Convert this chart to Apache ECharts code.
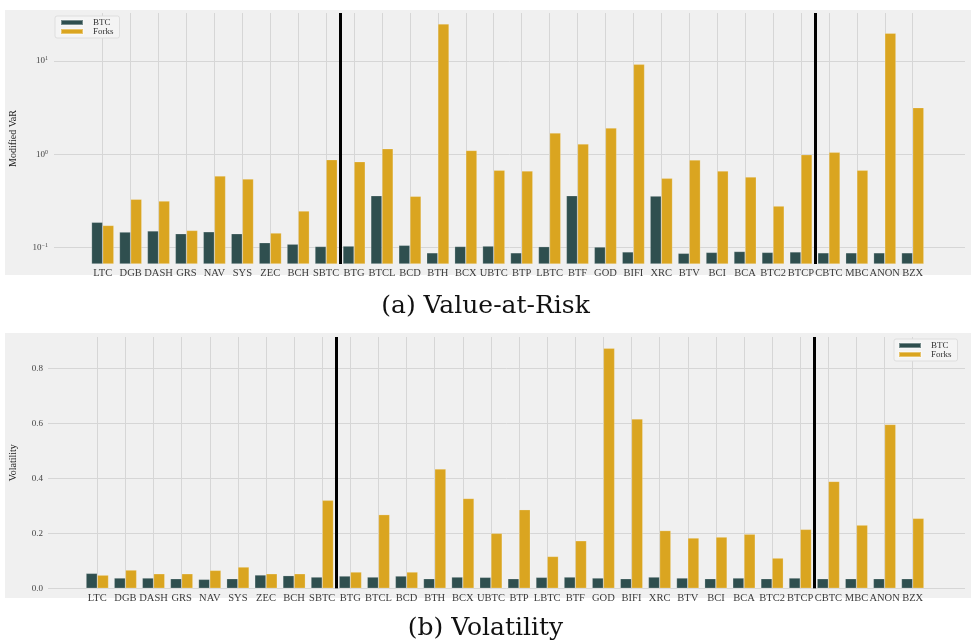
<!DOCTYPE html>
<html>
<head>
<meta charset="utf-8">
<script src="https://cdn.jsdelivr.net/npm/echarts@6/dist/echarts.min.js"></script>
<style>
html,body{margin:0;padding:0;background:#fff;}
#chart{width:971px;height:641px;}
</style>
</head>
<body>
<div id="chart"></div>
<script>
const categories = ['LTC','DGB','DASH','GRS','NAV','SYS','ZEC','BCH','SBTC','BTG','BTCL','BCD','BTH','BCX','UBTC','BTP','LBTC','BTF','GOD','BIFI','XRC','BTV','BCI','BCA','BTC2','BTCP','CBTC','MBC','ANON','BZX'];

const varBTC   = [0.187,0.147,0.151,0.141,0.148,0.141,0.113,0.109,0.103,0.104,0.360,0.106,0.088,0.103,0.104,0.088,0.1025,0.360,0.1016,0.090,0.357,0.087,0.089,0.091,0.089,0.090,0.088,0.088,0.088,0.088];
const varForks = [0.173,0.330,0.316,0.153,0.586,0.544,0.1435,0.247,0.875,0.833,1.148,0.355,24.9,1.10,0.674,0.662,1.69,1.29,1.91,9.2,0.553,0.869,0.662,0.571,0.279,0.99,1.05,0.674,19.8,3.16];

const volBTC   = [0.0545,0.0375,0.0375,0.035,0.0327,0.035,0.0485,0.046,0.041,0.0447,0.041,0.0447,0.035,0.041,0.040,0.035,0.040,0.041,0.0375,0.035,0.041,0.0375,0.035,0.0375,0.035,0.0375,0.035,0.035,0.035,0.035];
const volForks = [0.048,0.0665,0.053,0.053,0.0654,0.0775,0.053,0.053,0.32,0.0593,0.268,0.0593,0.434,0.327,0.2,0.286,0.116,0.173,0.873,0.616,0.21,0.183,0.1865,0.197,0.110,0.2145,0.389,0.230,0.596,0.2545];

// group separators (between SBTC|BTG and BTCP|CBTC), in category index units
const groupBreaks = [8.5, 25.5];

const varAxisMin = 0.0668, varAxisMax = 32.6;
const volAxisMin = 0, volAxisMax = 0.914;

const FONT = 'Liberation Serif';
const CAPTION_FONT = 'DejaVu Serif';
const C_BTC = '#2f4f4f', C_FORK = '#daa520';
const GRID_COL = '#d6d6d6';

const chart = echarts.init(document.getElementById('chart'), null, {renderer: 'canvas'});

function supFormatter(v) {
  const e = Math.round(Math.log10(v));
  return '{b|10}{s|' + (e < 0 ? '\u2212' + (-e) : e) + '}';
}

function barSeries(name, data, color, xi, yi) {
  return {
    type: 'bar', name: name, data: data, xAxisIndex: xi, yAxisIndex: yi,
    barWidth: '40%', barGap: '0%', clip: false,
    itemStyle: {color: color, borderColor: 'rgba(255,255,255,0.35)', borderWidth: 0.6},
    emphasis: {disabled: true}
  };
}

function breakSeries(xi, yi) {
  return {
    type: 'line', name: 'groups', data: [], xAxisIndex: xi, yAxisIndex: yi,
    markLine: {
      silent: true, symbol: 'none', label: {show: false},
      lineStyle: {color: '#000', width: 3, type: 'solid'},
      data: groupBreaks.map(v => ({xAxis: v}))
    }
  };
}

const catAxisCommon = {
  type: 'category', data: categories, boundaryGap: false,
  axisLine: {show: false}, axisTick: {show: false},
  axisLabel: {interval: 0, fontFamily: FONT, fontSize: 10.5, color: '#3a3a3a', margin: 4},
  splitLine: {show: true, interval: 0, lineStyle: {color: GRID_COL, width: 1}}
};

const option = {
  animation: false,
  title: [
    {text: '(a) Value-at-Risk', left: 'center', top: 289,
     textStyle: {fontFamily: CAPTION_FONT, fontSize: 25, fontWeight: 'normal', color: '#111'}},
    {text: '(b) Volatility', left: 'center', top: 611,
     textStyle: {fontFamily: CAPTION_FONT, fontSize: 25, fontWeight: 'normal', color: '#111'}}
  ],
  legend: [
    {data: ['BTC','Forks'], orient: 'vertical', left: 55, top: 16, icon: 'rect',
     itemWidth: 22, itemHeight: 5, itemGap: 0, padding: [2,6,2,5],
     backgroundColor: '#f4f4f4', borderColor: '#dedede', borderWidth: 1, borderRadius: 2,
     textStyle: {fontFamily: FONT, fontSize: 9, color: '#333', lineHeight: 9, padding: [0,0,0,5]}},
    {data: ['BTC','Forks'], orient: 'vertical', left: 894, top: 339, icon: 'rect',
     itemWidth: 22, itemHeight: 5, itemGap: 0, padding: [2,6,2,4],
     backgroundColor: '#f4f4f4', borderColor: '#dedede', borderWidth: 1, borderRadius: 2,
     textStyle: {fontFamily: FONT, fontSize: 9, color: '#333', lineHeight: 9, padding: [0,0,0,5]}}
  ],
  grid: [
    {left: 5, right: 0, top: 10, height: 265, show: true, backgroundColor: '#f0f0f0', borderWidth: 0, z: -1},
    {left: 52, right: 6, top: 13, height: 251, show: false},
    {left: 102.7, right: 58.3, top: 13, height: 251, show: false},
    {left: 5, right: 0, top: 333, height: 265, show: true, backgroundColor: '#f0f0f0', borderWidth: 0, z: -1},
    {left: 45, right: 6, top: 337, height: 251.3, show: false},
    {left: 97.3, right: 58.3, top: 337, height: 251.3, show: false}
  ],
  xAxis: [
    {gridIndex: 1, type: 'value', show: false, min: 0, max: 1},
    Object.assign({gridIndex: 2}, catAxisCommon),
    {gridIndex: 2, type: 'value', show: false, min: 0, max: categories.length - 1},
    {gridIndex: 4, type: 'value', show: false, min: 0, max: 1},
    Object.assign({gridIndex: 5}, catAxisCommon),
    {gridIndex: 5, type: 'value', show: false, min: 0, max: categories.length - 1}
  ],
  yAxis: [
    {gridIndex: 1, type: 'log', logBase: 10, min: varAxisMin, max: varAxisMax,
     name: 'Modified VaR', nameLocation: 'middle', nameGap: 36,
     nameTextStyle: {fontFamily: FONT, fontSize: 10, color: '#222'},
     axisLine: {show: false}, axisTick: {show: false}, minorTick: {show: false},
     axisLabel: {showMinLabel: false, showMaxLabel: false, formatter: supFormatter, margin: 6,
       rich: {b: {fontFamily: FONT, fontSize: 9, color: '#444'},
              s: {fontFamily: FONT, fontSize: 6, color: '#444', verticalAlign: 'top', padding: [0,0,4,0]}}},
     splitLine: {show: true, showMinLine: false, showMaxLine: false, lineStyle: {color: GRID_COL, width: 1}}},
    {gridIndex: 2, type: 'log', logBase: 10, min: varAxisMin, max: varAxisMax, startValue: varAxisMin, show: false,
     splitLine: {show: false}},
    {gridIndex: 4, type: 'value', min: volAxisMin, max: volAxisMax, interval: 0.2,
     name: 'Volatility', nameLocation: 'middle', nameGap: 30,
     nameTextStyle: {fontFamily: FONT, fontSize: 10, color: '#222'},
     axisLine: {show: false}, axisTick: {show: false},
     axisLabel: {showMaxLabel: false, fontFamily: FONT, fontSize: 9, color: '#444', margin: 5,
       formatter: v => v.toFixed(1)},
     splitLine: {show: true, showMaxLine: false, lineStyle: {color: GRID_COL, width: 1}}},
    {gridIndex: 5, type: 'value', min: volAxisMin, max: volAxisMax, show: false, splitLine: {show: false}}
  ],
  series: [
    barSeries('BTC', varBTC, C_BTC, 1, 1),
    barSeries('Forks', varForks, C_FORK, 1, 1),
    breakSeries(2, 1),
    barSeries('BTC', volBTC, C_BTC, 4, 3),
    barSeries('Forks', volForks, C_FORK, 4, 3),
    breakSeries(5, 3)
  ]
};
chart.setOption(option);
</script>
</body>
</html>
